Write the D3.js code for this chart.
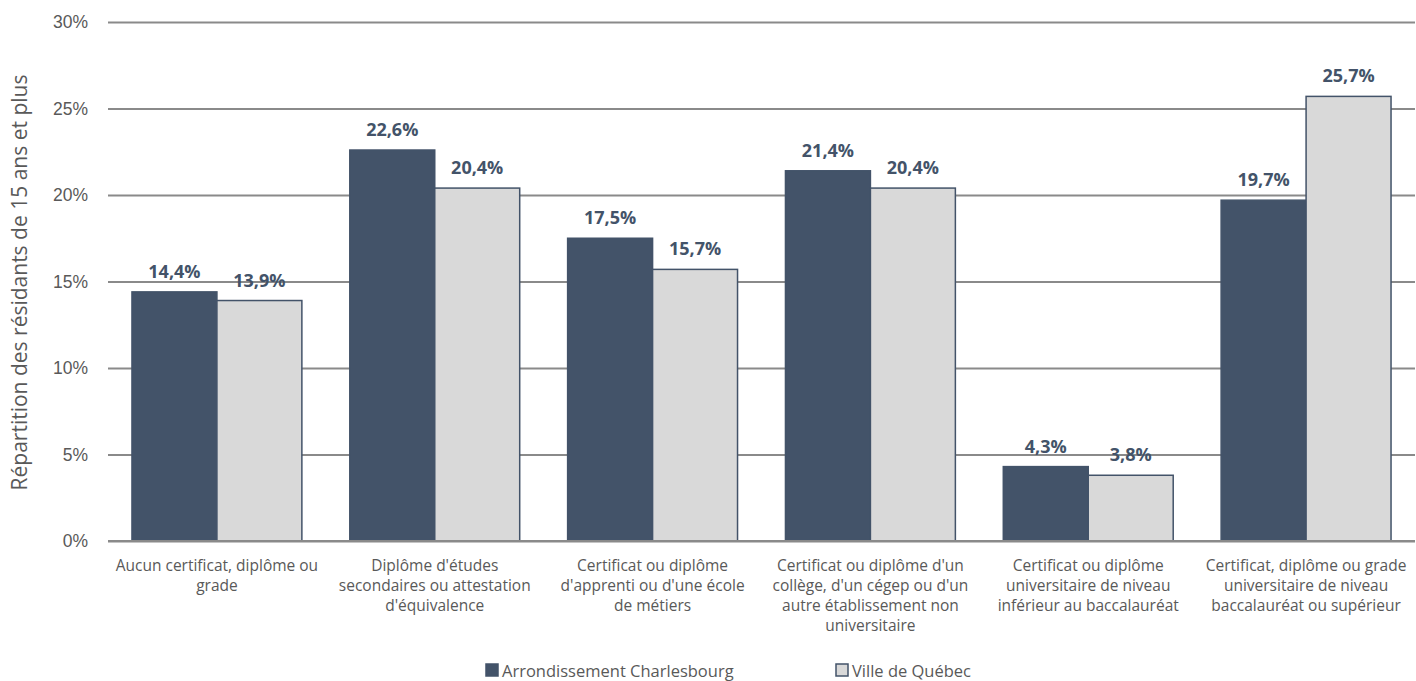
<!DOCTYPE html>
<html>
<head>
<meta charset="utf-8">
<script src="https://cdn.jsdelivr.net/npm/d3@7"></script>
<style>
    body { margin: 0; background: #fff; }
    svg { font-family: "Open Sans", "Noto Sans", sans-serif; }
</style>
</head>
<body>
<div id="chart"></div>
<script>
const categories = [
    ["Aucun certificat, diplôme ou", "grade"],
    ["Diplôme d'études", "secondaires ou attestation", "d'équivalence"],
    ["Certificat ou diplôme", "d'apprenti ou d'une école", "de métiers"],
    ["Certificat ou diplôme d'un", "collège, d'un cégep ou d'un", "autre établissement non", "universitaire"],
    ["Certificat ou diplôme", "universitaire de niveau", "inférieur au baccalauréat"],
    ["Certificat, diplôme ou grade", "universitaire de niveau", "baccalauréat ou supérieur"]
];
const seriesNames = ["Arrondissement Charlesbourg", "Ville de Québec"];
const charlesbourg = [14.4, 22.6, 17.5, 21.4, 4.3, 19.7];
const villeQuebec = [13.9, 20.4, 15.7, 20.4, 3.8, 25.7];
const yTicks = [0, 5, 10, 15, 20, 25, 30];

const width = 1416, height = 681;
const margin = {top: 22, right: 1, bottom: 140, left: 108};
const dark = "#435369", light = "#d9d9d9", textGrey = "#595959";

const svg = d3.select("#chart").append("svg")
    .attr("width", width)
    .attr("height", height);

const x = d3.scaleBand()
    .domain(d3.range(categories.length))
    .range([margin.left, width - margin.right])
    .paddingInner(0.22)
    .paddingOuter(0.11);

const xs = d3.scaleBand()
    .domain([0, 1])
    .range([0, x.bandwidth()]);

const y = d3.scaleLinear()
    .domain([0, 30])
    .range([height - margin.bottom, margin.top]);

// grid + y labels
const yAxis = svg.append("g")
    .attr("transform", "translate(" + margin.left + ",0)")
    .call(d3.axisLeft(y).tickValues(yTicks).tickSize(-(width - margin.left - margin.right)).tickFormat(d => d + "%").tickPadding(20));
yAxis.select(".domain").remove();
yAxis.selectAll(".tick line").attr("stroke", "#8a8a8a").attr("stroke-width", 2);
yAxis.selectAll(".tick text").attr("fill", textGrey).style("font-size", "17.5px");

svg.append("text")
    .attr("transform", "translate(27," + ((margin.top + height - margin.bottom) / 2 + 1) + ") rotate(-90)")
    .attr("text-anchor", "middle")
    .attr("fill", textGrey)
    .style("font-size", "21px")
    .text("Répartition des résidants de 15 ans et plus");

const series = [charlesbourg, villeQuebec];
series.forEach((vals, s) => {
    const g = svg.append("g");
    g.selectAll("rect")
        .data(vals)
        .enter()
        .append("rect")
        .attr("x", (d, i) => x(i) + xs(s))
        .attr("y", d => y(d))
        .attr("width", xs.bandwidth())
        .attr("height", d => y(0) - y(d))
        .attr("fill", s === 0 ? dark : light)
        .attr("stroke", dark)
        .attr("stroke-width", 1.5);
    g.selectAll("text")
        .data(vals)
        .enter()
        .append("text")
        .attr("x", (d, i) => x(i) + xs(s) + xs.bandwidth() / 2)
        .attr("y", d => y(d) - 14)
        .attr("text-anchor", "middle")
        .attr("fill", dark)
        .style("font-size", "18px")
        .style("font-weight", "bold")
        .text(d => d.toFixed(1).replace(".", ",") + "%");
});

// baseline
svg.append("line")
    .attr("x1", margin.left).attr("x2", width - margin.right)
    .attr("y1", y(0)).attr("y2", y(0))
    .attr("stroke", "#8a8a8a").attr("stroke-width", 2);

// category labels
const catG = svg.append("g");
categories.forEach((lines, i) => {
    const t = catG.append("text")
        .attr("x", x(i) + x.bandwidth() / 2)
        .attr("y", y(0) + 30)
        .attr("text-anchor", "middle")
        .attr("fill", textGrey)
        .style("font-size", "15.5px");
    lines.forEach((l, k) => {
        t.append("tspan")
            .attr("x", x(i) + x.bandwidth() / 2)
            .attr("dy", k === 0 ? 0 : 20)
            .text(l);
    });
});

// legend
const legendX = [486, 836];
seriesNames.forEach((name, s) => {
    svg.append("rect")
        .attr("x", legendX[s]).attr("y", 664)
        .attr("width", 12).attr("height", 12)
        .attr("fill", s === 0 ? dark : light)
        .attr("stroke", dark).attr("stroke-width", 1.5);
    svg.append("text")
        .attr("x", legendX[s] + 16).attr("y", 677)
        .attr("fill", textGrey)
        .style("font-size", "16.5px")
        .text(name);
});
</script>
</body>
</html>
